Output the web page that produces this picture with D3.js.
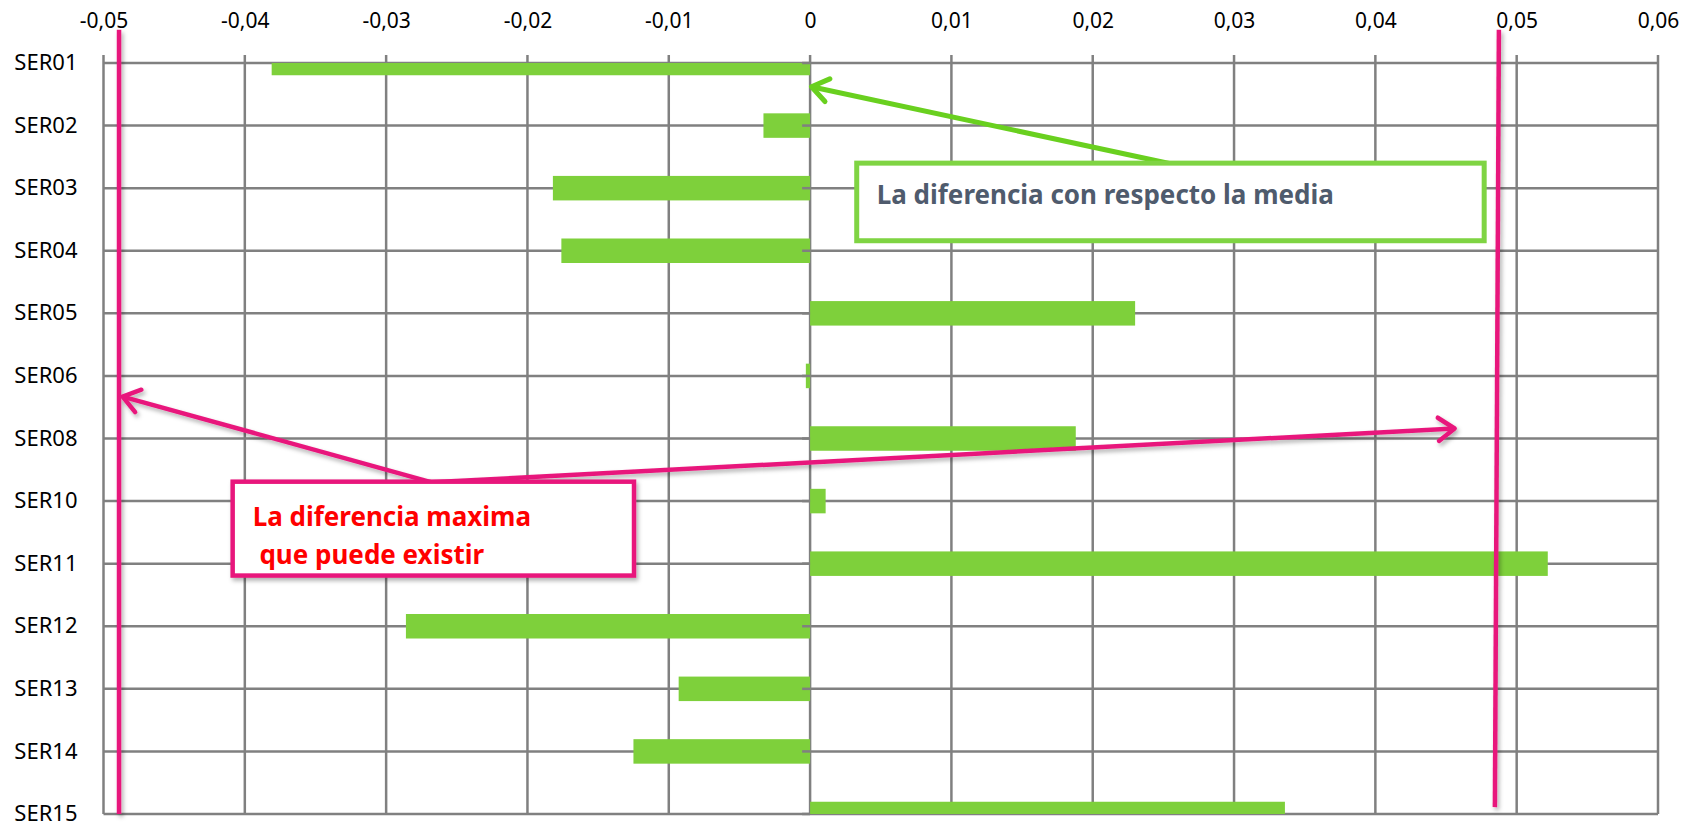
<!DOCTYPE html>
<html lang="es">
<head>
    <meta charset="UTF-8">
    <title>Diferencia con respecto la media</title>
    <script src="https://d3js.org/d3.v7.min.js"></script>
    <style>
        body { margin: 0; background: #fff; }
        text { font-family: "Noto Sans", "Open Sans", sans-serif; }
        .tick text { fill: #000; }
    </style>
</head>
<body>
    <svg width="1698" height="827"></svg>
    <script>
        // Datos
        var categories = ["SER01", "SER02", "SER03", "SER04", "SER05", "SER06", "SER08",
                          "SER10", "SER11", "SER12", "SER13", "SER14", "SER15"];
        var values = [-0.0381, -0.0033, -0.0182, -0.0176, 0.0230, -0.0003, 0.0188,
                      0.0011, 0.0522, -0.0286, -0.0093, -0.0125, 0.0336];
        var xTicks = [-0.05, -0.04, -0.03, -0.02, -0.01, 0, 0.01, 0.02, 0.03, 0.04, 0.05, 0.06];
        var xTickLabels = ["-0,05", "-0,04", "-0,03", "-0,02", "-0,01", "0",
                           "0,01", "0,02", "0,03", "0,04", "0,05", "0,06"];
        var maxDiff = [-0.0489, 0.0486];

        var data = categories.map(function(c, i) { return {label: c, value: values[i]}; });

        var svg = d3.select("svg"),
            margin = {top: 63, right: 40, bottom: 13, left: 103.5},
            width = +svg.attr("width") - margin.left - margin.right,
            height = +svg.attr("height") - margin.top - margin.bottom,
            g = svg.append("g").attr("transform", "translate(" + margin.left + "," + margin.top + ")");

        var x = d3.scaleLinear().domain([-0.05, 0.06]).range([0, width]);
        var y = d3.scalePoint().domain(categories).range([0, height]);
        // posicion fraccionaria de fila (para las anotaciones)
        var row = d3.scaleLinear().domain([0, categories.length - 1]).range([0, height]);

        var defs = svg.append("defs");
        defs.append("clipPath").attr("id", "plot")
            .append("rect").attr("x", 0).attr("y", 0).attr("width", width).attr("height", height);
        defs.append("filter").attr("id", "shadow")
            .attr("x", "-20%").attr("y", "-20%").attr("width", "140%").attr("height", "140%")
            .append("feDropShadow")
            .attr("dx", 2).attr("dy", 3).attr("stdDeviation", 2)
            .attr("flood-color", "#000").attr("flood-opacity", 0.3);

        var gridColor = "#808080";

        // Rejilla vertical (con marca sobre el borde superior)
        g.selectAll(".vgrid").data(xTicks).enter().append("line")
            .attr("class", "vgrid")
            .attr("x1", function(d) { return x(d); })
            .attr("x2", function(d) { return x(d); })
            .attr("y1", -8).attr("y2", height)
            .attr("stroke", gridColor).attr("stroke-width", 2.5);

        // Rejilla horizontal
        g.selectAll(".hgrid").data(categories).enter().append("line")
            .attr("class", "hgrid")
            .attr("x1", 0).attr("x2", width)
            .attr("y1", function(d) { return y(d); })
            .attr("y2", function(d) { return y(d); })
            .attr("stroke", gridColor).attr("stroke-width", 2.5);

        // Eje X arriba
        g.append("g")
            .call(d3.axisTop(x).tickValues(xTicks).tickSize(0).tickPadding(35)
                .tickFormat(function(d, i) { return xTickLabels[i]; }))
            .call(function(a) { a.select(".domain").remove(); })
            .selectAll("text").style("font-size", "21px");

        // Eje Y (etiquetas)
        g.append("g")
            .call(d3.axisLeft(y).tickSize(0).tickPadding(26))
            .call(function(a) { a.select(".domain").remove(); })
            .selectAll("text").attr("dy", "0.3em").style("font-size", "22px");

        // Barras
        var barH = 24.5;
        g.append("g").attr("clip-path", "url(#plot)")
            .selectAll(".bar").data(data).enter().append("rect")
            .attr("class", "bar")
            .attr("x", function(d) { return x(Math.min(0, d.value)); })
            .attr("y", function(d) { return y(d.label) - barH / 2; })
            .attr("width", function(d) { return Math.abs(x(d.value) - x(0)); })
            .attr("height", barH)
            .attr("fill", "#7ed03b");

        // Marcas del eje de categorias en 0
        g.selectAll(".ctick").data(categories).enter().append("line")
            .attr("x1", x(0) - 8).attr("x2", x(0))
            .attr("y1", function(d) { return y(d); })
            .attr("y2", function(d) { return y(d); })
            .attr("stroke", gridColor).attr("stroke-width", 2.5);

        function arrow(sel, x1, y1, x2, y2, color, w) {
            var a = Math.atan2(y2 - y1, x2 - x1), L = 20, s = 0.62;
            sel.append("line")
                .attr("x1", x1).attr("y1", y1).attr("x2", x2).attr("y2", y2)
                .attr("stroke", color).attr("stroke-width", w);
            sel.append("path")
                .attr("d", "M" + (x2 - L * Math.cos(a - s)) + "," + (y2 - L * Math.sin(a - s)) +
                    "L" + x2 + "," + y2 +
                    "L" + (x2 - L * Math.cos(a + s)) + "," + (y2 - L * Math.sin(a + s)))
                .attr("fill", "none").attr("stroke", color).attr("stroke-width", w)
                .attr("stroke-linecap", "round").attr("stroke-linejoin", "round");
        }

        // Anotacion: diferencia con respecto la media
        var green = "#69d01f";
        var gm = g.append("g");
        arrow(gm, x(0.0255), row(1.61), x(0.0001), row(0.38), green, 5);
        gm.append("rect")
            .attr("x", x(0.0033)).attr("y", row(1.60))
            .attr("width", x(0.0477) - x(0.0033)).attr("height", row(2.84) - row(1.60))
            .attr("fill", "#fff").attr("stroke", "#7fd443").attr("stroke-width", 5);
        gm.append("text")
            .attr("x", x(0.0033) + 20).attr("y", row(1.60) + 41)
            .attr("fill", "#4f5b6d").style("font-size", "26px").style("font-weight", "bold")
            .text("La diferencia con respecto la media");

        // Anotacion: diferencia maxima
        var pink = "#e8197c";
        var pm = g.append("g").attr("filter", "url(#shadow)");
        pm.append("line")
            .attr("x1", x(maxDiff[0])).attr("x2", x(maxDiff[0]))
            .attr("y1", row(-0.53)).attr("y2", row(12))
            .attr("stroke", pink).attr("stroke-width", 4.5);
        pm.append("line")
            .attr("x1", x(maxDiff[1]) + 2).attr("x2", x(maxDiff[1]) - 2)
            .attr("y1", row(-0.53)).attr("y2", row(11.89))
            .attr("stroke", pink).attr("stroke-width", 4.5);
        arrow(pm, x(-0.02677), row(6.70), x(-0.04865), row(5.33), pink, 4.5);
        arrow(pm, x(-0.02677), row(6.70), x(0.04561), row(5.84), pink, 4.5);

        var bx0 = x(-0.04086), by0 = row(6.69);
        g.append("rect")
            .attr("x", bx0).attr("y", by0)
            .attr("width", x(-0.01246) - bx0).attr("height", row(8.19) - by0)
            .attr("fill", "#fff").attr("stroke", pink).attr("stroke-width", 4.5)
            .attr("filter", "url(#shadow)");
        var pt = g.append("text")
            .attr("fill", "#ff0000").style("font-size", "26px").style("font-weight", "bold")
            .style("white-space", "pre");
        pt.append("tspan").attr("x", bx0 + 20).attr("y", by0 + 44).text("La diferencia maxima");
        pt.append("tspan").attr("x", bx0 + 20).attr("y", by0 + 82).text(" que puede existir");
    </script>
</body>
</html>
